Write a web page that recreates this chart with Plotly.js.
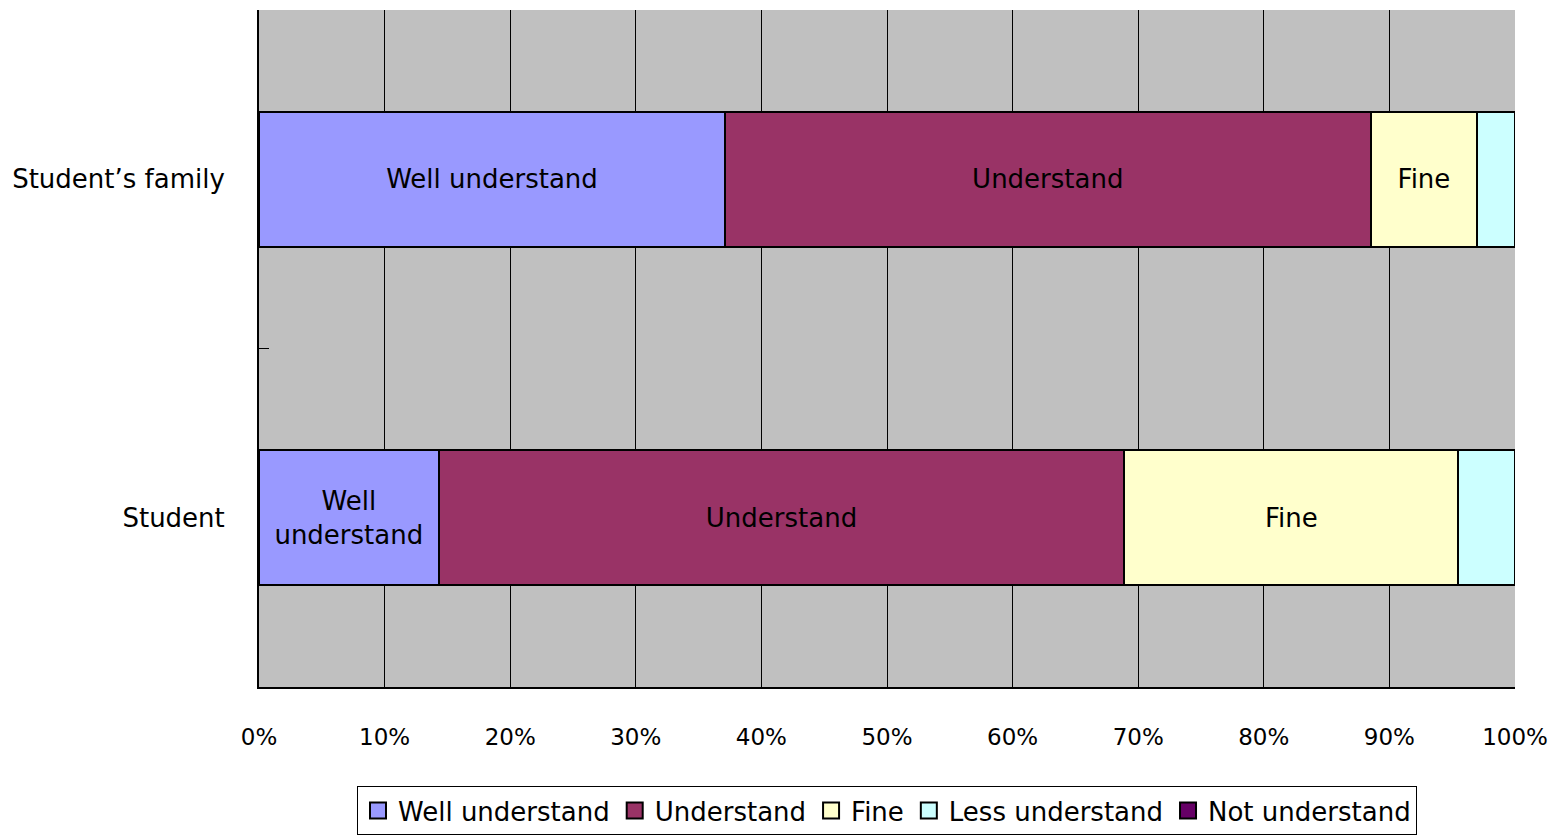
<!DOCTYPE html>
<html><head><meta charset="utf-8">
<script src="https://cdn.plot.ly/plotly-3.0.1.min.js"></script>
<style>html,body{margin:0;padding:0;background:#fff;}#chart{width:1552px;height:837px;}</style>
</head><body><div id="chart"></div>
<script>
const categories = ["Student", "Student\u2019s family"];
const seriesNames = ["Well understand", "Understand", "Fine", "Less understand", "Not understand"];
const wellUnderstand = [0.143, 0.371];
const understand = [0.546, 0.514];
const fine = [0.266, 0.085];
const lessUnderstand = [0.045, 0.030];
const notUnderstand = [0.0, 0.0];
const segmentLabels = [
  ["Well<br>understand", "Well understand"],
  ["Understand", "Understand"],
  ["Fine", "Fine"],
  ["", ""],
  ["", ""]
];
const colors = ["#9999FF", "#993366", "#FFFFCC", "#CCFFFF", "#660066"];
const values = [wellUnderstand, understand, fine, lessUnderstand, notUnderstand];
const FONT = '"DejaVu Sans", sans-serif';

const data = seriesNames.map((name, i) => ({
  type: 'bar', orientation: 'h', name: name,
  y: categories, x: values[i],
  text: segmentLabels[i], textposition: 'inside', insidetextanchor: 'middle',
  textfont: {family: FONT, size: 26, color: '#000'},
  constraintext: 'none',
  marker: {color: colors[i], line: {color: '#000', width: 2}},
  width: 0.4, hoverinfo: 'x+name', showlegend: false
}));
// legend entries with larger square swatches
seriesNames.forEach((name, i) => {
  data.push({
    type: 'scatter', mode: 'markers', name: name,
    x: [null], y: [null],
    marker: {symbol: 'square', size: 19, color: colors[i], line: {color: '#000', width: 2}},
    showlegend: true, hoverinfo: 'skip'
  });
});

const layout = {
  width: 1552, height: 837,
  margin: {l: 259, r: 37, t: 10, b: 150},
  barmode: 'stack',
  paper_bgcolor: '#fff', plot_bgcolor: '#C0C0C0',
  font: {family: FONT, size: 26, color: '#000'},
  showlegend: true,
  legend: {orientation: 'h', x: 0.5, xanchor: 'center', xref: 'paper',
    yref: 'container', y: 1 - 786/837, yanchor: 'top',
    bgcolor: '#fff', bordercolor: '#000', borderwidth: 1,
    font: {family: FONT, size: 26, color: '#000'}, traceorder: 'normal',
    itemwidth: 30, tracegroupgap: 0},
  xaxis: {range: [0, 1], dtick: 0.1, tick0: 0, tickformat: '.0%',
    showgrid: true, gridcolor: '#000', gridwidth: 1,
    showline: true, linecolor: '#000', linewidth: 2,
    ticks: '', ticklabelstandoff: 28, zeroline: false, automargin: false,
    tickfont: {family: FONT, size: 23, color: '#000'}, fixedrange: true},
  yaxis: {type: 'category', range: [-0.5, 1.5], showgrid: false, showline: true, linecolor: '#000', linewidth: 2,
    ticks: 'inside', tickson: 'boundaries', ticklen: 10, tickcolor: '#000',
    ticklabelstandoff: 27, zeroline: false, automargin: false,
    tickfont: {family: FONT, size: 26, color: '#000'}, fixedrange: true}
};
Plotly.newPlot('chart', data, layout, {displayModeBar: false, staticPlot: true});
</script></body></html>
